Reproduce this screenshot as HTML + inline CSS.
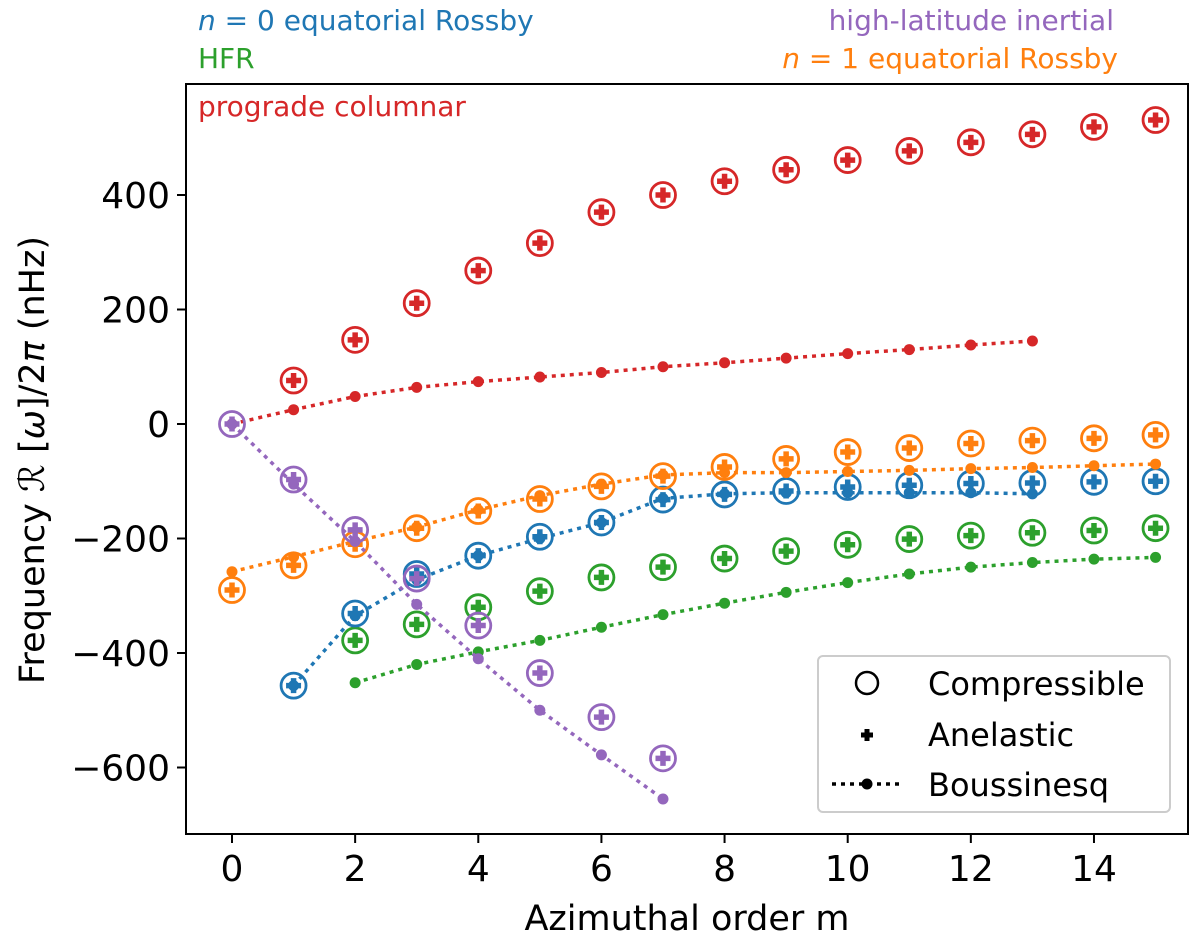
<!DOCTYPE html>
<html><head><meta charset="utf-8"><style>
body{margin:0;background:#fff}
svg text{font-family:"DejaVu Sans","Liberation Sans",sans-serif}
</style></head><body>
<svg id="chart" width="1200" height="944" xmlns="http://www.w3.org/2000/svg">
<g id="plot"></g>
<text x="687" y="930" font-size="35" text-anchor="middle">Azimuthal order m</text>
<text transform="translate(44,460) rotate(-90)" font-size="35" text-anchor="middle">Frequency <tspan font-style="italic">ℛ</tspan> [<tspan font-style="italic">ω</tspan>]/2<tspan font-style="italic">π</tspan> (nHz)</text>
<text x="198" y="30" font-size="28" fill="#1f77b4"><tspan font-style="italic">n</tspan> = 0 equatorial Rossby</text>
<text x="198" y="68" font-size="28" fill="#2ca02c">HFR</text>
<text x="198" y="116" font-size="28" fill="#d62728">prograde columnar</text>
<text x="1114" y="30" font-size="28" fill="#9467bd" text-anchor="end">high-latitude inertial</text>
<text x="1118" y="68" font-size="28" fill="#ff7f0e" text-anchor="end"><tspan font-style="italic">n</tspan> = 1 equatorial Rossby</text>
<g>
<rect x="818" y="656" width="352" height="156" rx="5" fill="#fff" stroke="#ccc" stroke-width="2"/>
<circle cx="867" cy="683" r="11" fill="none" stroke="#000" stroke-width="2.5"/>
<text x="928" y="695" font-size="32">Compressible</text>
<path d="M861,735H873M867,729V741" stroke="#000" stroke-width="5"/>
<text x="928" y="746" font-size="32">Anelastic</text>
<line x1="832" y1="784" x2="900" y2="784" stroke="#000" stroke-width="3.5" stroke-dasharray="4 5"/>
<circle cx="867" cy="784" r="5.5" fill="#000"/>
<text x="928" y="796" font-size="32">Boussinesq</text>
</g>
</svg>
<script>
const mVals=[0,1,2,3,4,5,6,7,8,9,10,11,12,13,14,15];
const xTicks=[0,2,4,6,8,10,12,14];
const yTicks=[-600,-400,-200,0,200,400];
const redComp=[null,76,147,211,268,316,370,400,424,444,461,477,492,506,519,531];
const redBous=[0,25,48,64,74,82,90,100,107,115,123,130,138,145];
const orangeComp=[-290,-247,-210,-182,-152,-131,-109,-91,-75,-61,-49,-42,-34,-29,-25,-19];
const orangeBous=[-258,-232,-205,-180,-150,-125,-105,-89,-85,-85,-83,-81,-78,-76,-73,-70];
const blueComp=[null,-457,-331,-262,-230,-197,-172,-132,-123,-117,-110,-107,-104,-103,-101,-100];
const blueBous=[null,-457,-335,-272,-230,-200,-172,-130,-122,-120,-120,-120,-120,-122];
const greenComp=[null,null,-378,-350,-320,-292,-268,-250,-235,-222,-211,-201,-195,-190,-186,-182];
const greenBous=[null,null,-452,-420,-398,-378,-355,-333,-313,-294,-277,-262,-250,-242,-236,-233];
const purpleComp=[0,-97,-185,-270,-352,-435,-512,-584];
const purpleBous=[0,-105,-205,-315,-410,-500,-578,-655];

const NS="http://www.w3.org/2000/svg";
const L=186,R=1188,T=84,B=834;
const X=m=>232+m*61.57;
const Y=v=>424-v*0.5725;
const g=document.getElementById('plot');
function mk(tag,attrs,parent){const e=document.createElementNS(NS,tag);for(const k in attrs)e.setAttribute(k,attrs[k]);(parent||g).appendChild(e);return e;}

xTicks.forEach(t=>{
  const l=mk('line',{x1:X(t),x2:X(t),y1:B,y2:B+9,stroke:'#000','stroke-width':2});
  
  
  const tx=mk('text',{x:X(t),y:B+47,'font-size':36,'text-anchor':'middle'});
  tx.textContent=t;
  
  
});
yTicks.forEach(t=>{
  const l=mk('line',{x1:L-9,x2:L,y1:Y(t),y2:Y(t),stroke:'#000','stroke-width':2});
  
  
  const tx=mk('text',{x:L-16,y:Y(t)+13,'font-size':36,'text-anchor':'end'});
  tx.textContent=t<0?'\u2212'+(-t):t;
  
  
});

function series(comp,bous,color,name){
  const pts=[];bous.forEach((v,i)=>{if(v!==null)pts.push([X(mVals[i]),Y(v)]);});
  const pl=mk('polyline',{points:pts.map(p=>p.join(',')).join(' '),fill:'none',stroke:color,'stroke-width':3.5,'stroke-dasharray':'4 5'});
  
  
  pts.forEach(p=>{
    const c=mk('circle',{cx:p[0],cy:p[1],r:5.5,fill:color});
    
    
  });
  comp.forEach((v,i)=>{
    if(v===null)return;
    const cx=X(mVals[i]),cy=Y(v);
    const c=mk('circle',{cx:cx,cy:cy,r:12.5,fill:'none',stroke:color,'stroke-width':2.8});
    
    
    const p=mk('path',{d:`M${cx-7.5},${cy}H${cx+7.5}M${cx},${cy-7.5}V${cy+7.5}`,stroke:color,'stroke-width':5.5});
    
    
  });
}
series(redComp,redBous,'#d62728','prograde-columnar');
series(greenComp,greenBous,'#2ca02c','hfr');
series(blueComp,blueBous,'#1f77b4','n0-rossby');
series(orangeComp,orangeBous,'#ff7f0e','n1-rossby');
series(purpleComp,purpleBous,'#9467bd','high-latitude-inertial');

const fr=mk('rect',{x:L,y:T,width:R-L,height:B-T,fill:'none',stroke:'#000','stroke-width':2});


</script>
</body></html>
